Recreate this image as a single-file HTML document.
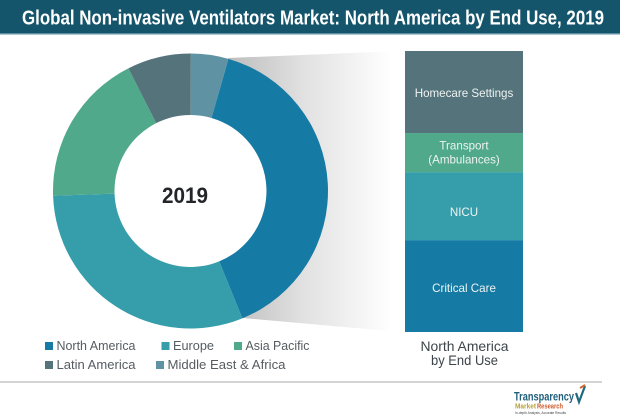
<!DOCTYPE html>
<html>
<head>
<meta charset="utf-8">
<title>Global Non-invasive Ventilators Market</title>
<style>
html,body{margin:0;padding:0;background:#fff;}
svg{display:block;}
text{font-family:"Liberation Sans",sans-serif;}
</style>
</head>
<body>
<svg id="chart" xmlns="http://www.w3.org/2000/svg" width="620" height="420" viewBox="0 0 620 420">
  <defs>
    <linearGradient id="wedgeGrad" x1="0" y1="0" x2="1" y2="0">
      <stop offset="0" stop-color="#bdbdbe"/>
      <stop offset="0.45" stop-color="#e2e2e3"/>
      <stop offset="0.95" stop-color="#ffffff"/>
    </linearGradient>
  </defs>
  <rect x="0" y="0" width="620" height="34" fill="#14556c"/>
  <rect x="0" y="33" width="620" height="1.5" fill="#5d8fa2"/>
  <text x="22" y="24.5" font-size="20.5" font-weight="700" fill="#ffffff" textLength="582" lengthAdjust="spacingAndGlyphs">Global Non-invasive Ventilators Market: North America by End Use, 2019</text>
  <polygon points="228,58 400,51 400,332 243,318" fill="url(#wedgeGrad)"/>
  <circle cx="190.5" cy="191" r="76" fill="#ffffff"/>
  <g id="donut"></g>
  <text x="185" y="203" font-size="22" font-weight="700" fill="#232528" text-anchor="middle" textLength="46" lengthAdjust="spacingAndGlyphs">2019</text>
  <g id="stack"></g>
  <g id="legend"></g>
  <text x="464.5" y="351" font-size="14" fill="#3d4449" text-anchor="middle" textLength="88" lengthAdjust="spacingAndGlyphs">North America</text>
  <text x="464.5" y="365" font-size="14" fill="#3d4449" text-anchor="middle" textLength="67" lengthAdjust="spacingAndGlyphs">by End Use</text>
  <rect x="0" y="381" width="602" height="2" fill="#d4d4d4"/>
  <g>
    <text x="514" y="400.5" font-size="12" font-weight="700" fill="#1f5f7c" textLength="60" lengthAdjust="spacingAndGlyphs">Transparency</text>
    <text x="515" y="408.5" font-size="7.5" font-weight="700" fill="#b9a13c" textLength="21" lengthAdjust="spacingAndGlyphs">Market</text>
    <text x="537" y="408.5" font-size="7.5" font-weight="700" fill="#cf5a2c" textLength="26" lengthAdjust="spacingAndGlyphs">Research</text>
    <text x="515" y="414" font-size="3.5" fill="#444444" textLength="51" lengthAdjust="spacingAndGlyphs">In-depth Analysis, Accurate Results</text>
    <path d="M576 393 L579 402 L585 386" fill="none" stroke="#1f6a80" stroke-width="2.2"/>
    <path d="M580 388 L585 385" fill="none" stroke="#d2682f" stroke-width="2"/>
  </g>
</svg>
<script>
var regionNames = ["North America", "Europe", "Asia Pacific", "Latin America", "Middle East & Africa"];
var regionShares = [39.4, 30.6, 18.1, 7.5, 4.4];
var regionColors = ["#157ba4", "#369eab", "#4fa98a", "#55737a", "#5f93a4"];
var useNames = ["Critical Care", "NICU", "Transport (Ambulances)", "Homecare Settings"];
var useShares = [32.7, 24.2, 13.9, 29.2];
var useColors = ["#157ba4", "#369eab", "#4fa98a", "#55737a"];

var NS = "http://www.w3.org/2000/svg";
var cx = 190.5, cy = 191, rOuter = 137.5, rInner = 76, startDeg = 16;
var barX = 405, barW = 118, barTop = 51, barBottom = 332;

function make(tag, parent, attrs) {
  var el = document.createElementNS(NS, tag);
  for (var k in attrs) { el.setAttribute(k, attrs[k]); }
  parent.appendChild(el);
  return el;
}
function slug(s) {
  return s.toLowerCase().replace(/[^a-z0-9]+/g, "-").replace(/-$/, "");
}
function polar(r, deg) {
  var a = deg * Math.PI / 180;
  return [cx + r * Math.sin(a), cy - r * Math.cos(a)];
}
function total(list) {
  return list.reduce(function (a, b) { return a + b; }, 0);
}
function ringPath(a0, a1) {
  var large = (a1 - a0) > 180 ? 1 : 0;
  var p0 = polar(rOuter, a0), p1 = polar(rOuter, a1), p2 = polar(rInner, a1), p3 = polar(rInner, a0);
  return "M" + p0[0] + " " + p0[1] +
    " A" + rOuter + " " + rOuter + " 0 " + large + " 1 " + p1[0] + " " + p1[1] +
    " L" + p2[0] + " " + p2[1] +
    " A" + rInner + " " + rInner + " 0 " + large + " 0 " + p3[0] + " " + p3[1] + " Z";
}

var donut = document.getElementById("donut");
var regionTotal = total(regionShares);
var angle = startDeg;
regionShares.forEach(function (v, i) {
  var sweep = v / regionTotal * 360;
  var slice = make("path", donut, { d: ringPath(angle, angle + sweep), fill: regionColors[i] });
  
  
  angle += sweep;
});

var stack = document.getElementById("stack");
var useTotal = total(useShares);
var barH = barBottom - barTop;
var yCursor = barBottom;
useShares.forEach(function (v, i) {
  var h = v / useTotal * barH;
  var y = yCursor - h;
  var seg = make("rect", stack, { x: barX, y: y, width: barW, height: h, fill: useColors[i] });
  
  
  var mid = y + h / 2;
  var nudge = useNames[i] === "NICU" ? 6 : (useNames[i] === "Critical Care" ? 2 : (useNames[i] === "Homecare Settings" ? 1 : 0));
  var lines = useNames[i] === "Transport (Ambulances)" ? ["Transport", "(Ambulances)"] : [useNames[i]];
  lines.forEach(function (line, j) {
    var t = make("text", stack, {
      x: barX + barW / 2,
      y: mid + 4 + nudge + (j - (lines.length - 1) / 2) * 14,
      "font-size": 11.6,
      fill: "#eef3f3",
      "text-anchor": "middle"
    });
    
    
    t.textContent = line;
  });
  yCursor = y;
});

var legend = document.getElementById("legend");
var legendSlots = [[45, 342, 79], [161.5, 342, 41], [234, 342, 64], [45, 361, 79], [156, 361, 118]];
regionNames.forEach(function (name, i) {
  var slot = legendSlots[i];
  var sw = make("rect", legend, { x: slot[0], y: slot[1], width: 8, height: 8, fill: regionColors[i] });
  
  
  var t = make("text", legend, {
    x: slot[0] + 11.5,
    y: slot[1] + 8,
    "font-size": 13,
    fill: "#555c62",
    textLength: slot[2],
    lengthAdjust: "spacingAndGlyphs"
  });
  
  
  t.textContent = name;
});
</script>
</body>
</html>
